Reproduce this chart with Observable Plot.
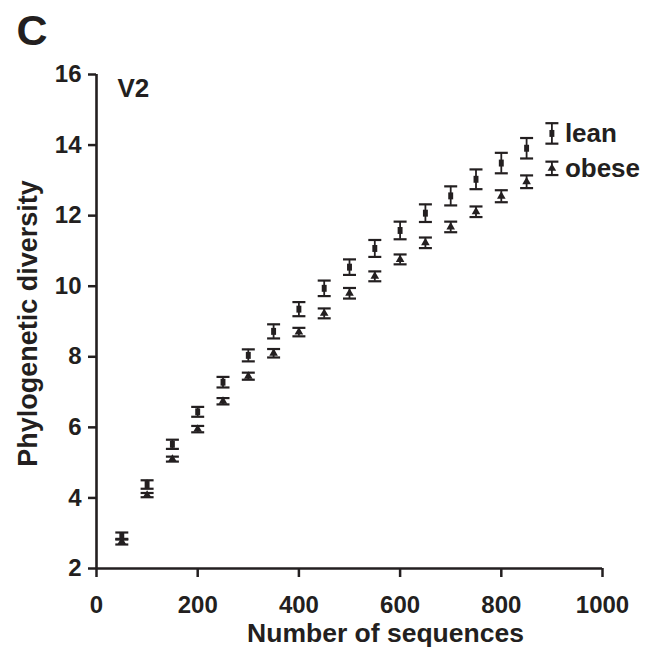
<!DOCTYPE html>
<html>
<head>
<meta charset="utf-8">
<script src="https://cdn.jsdelivr.net/npm/d3@7"></script>
<script src="https://cdn.jsdelivr.net/npm/@observablehq/plot@0.6"></script>
<style>
  html, body { margin: 0; padding: 0; background: #fff; }
  #chart svg { display: block; }
</style>
</head>
<body>
<div id="chart"></div>
<script>
// Rarefaction of phylogenetic diversity, V2 region
const sequences = [50, 100, 150, 200, 250, 300, 350, 400, 450, 500, 550, 600, 650, 700, 750, 800, 850, 900];
const leanMean  = [2.92, 4.38, 5.52, 6.44, 7.28, 8.04, 8.72, 9.35, 9.94, 10.54, 11.07, 11.58, 12.07, 12.56, 13.03, 13.49, 13.91, 14.33];
const leanErr   = [0.10, 0.12, 0.13, 0.14, 0.15, 0.17, 0.20, 0.20, 0.22, 0.22, 0.24, 0.25, 0.25, 0.27, 0.28, 0.29, 0.29, 0.29];
const obeseMean = [2.76, 4.08, 5.10, 5.95, 6.74, 7.45, 8.10, 8.70, 9.23, 9.80, 10.28, 10.76, 11.23, 11.68, 12.11, 12.55, 12.96, 13.34];
const obeseErr  = [0.08, 0.06, 0.07, 0.09, 0.09, 0.10, 0.12, 0.12, 0.14, 0.15, 0.14, 0.14, 0.15, 0.15, 0.15, 0.17, 0.18, 0.19];
const groups = ["lean", "obese"];
const xTicks = [0, 200, 400, 600, 800, 1000];
const yTicks = [2, 4, 6, 8, 10, 12, 14, 16];

const ink = "#231f20";
const font = "'Liberation Sans', Arial, Helvetica, sans-serif";

const rows = [];
sequences.forEach((n, i) => {
  rows.push({group: groups[0], n, mean: leanMean[i], err: leanErr[i]});
  rows.push({group: groups[1], n, mean: obeseMean[i], err: obeseErr[i]});
});
const leanRows = rows.filter(d => d.group === "lean");
const obeseRows = rows.filter(d => d.group === "obese");
const lastRows = rows.filter(d => d.n === sequences[sequences.length - 1]);

// horizontal whisker cap
const cap = {draw(ctx, size) { const r = Math.sqrt(size / Math.PI); ctx.moveTo(-r, 0); ctx.lineTo(r, 0); }};
// small upright rectangle marker
const bar = {draw(ctx, size) { const r = Math.sqrt(size / Math.PI); ctx.rect(-r * 0.85, -r * 1.2, r * 1.7, r * 2.4); }};

const chart = Plot.plot({
  width: 648,
  height: 652,
  marginLeft: 96,
  marginRight: 46,
  marginTop: 74,
  marginBottom: 84,
  style: {fontFamily: font, fontWeight: "bold", color: ink, background: "#fff", overflow: "visible"},
  x: {domain: [0, 1000]},
  y: {domain: [2, 16]},
  marks: [
    Plot.axisX({ticks: xTicks, tickFormat: d => String(d), tickSize: 9, tickPadding: 18, strokeWidth: 2.5, fontSize: 24, fontWeight: "bold", label: null}),
    Plot.axisY({ticks: yTicks, tickFormat: d => String(d), tickSize: 8, tickPadding: 7, strokeWidth: 2.5, fontSize: 24, fontWeight: "bold", label: null}),
    Plot.ruleX([0], {y1: 2, y2: 16, stroke: ink, strokeWidth: 2.6}),
    Plot.ruleY([2], {x1: 0, x2: 1000, stroke: ink, strokeWidth: 2.6}),
    // error bars
    Plot.ruleX(rows, {x: "n", y1: d => d.mean - d.err, y2: d => d.mean + d.err, stroke: ink, strokeWidth: 1.8}),
    Plot.dot(rows, {x: "n", y: d => d.mean + d.err, symbol: cap, r: 6.5, stroke: ink, strokeWidth: 2.2}),
    Plot.dot(rows, {x: "n", y: d => d.mean - d.err, symbol: cap, r: 6.5, stroke: ink, strokeWidth: 2.2}),
    // means
    Plot.dot(leanRows, {x: "n", y: "mean", symbol: bar, r: 2.9, fill: ink, stroke: null}),
    Plot.dot(obeseRows, {x: "n", y: "mean", symbol: "triangle", r: 3.2, fill: ink, stroke: null}),
    // series labels at the last point
    Plot.text(lastRows, {x: "n", y: "mean", text: "group", dx: 13, textAnchor: "start", lineAnchor: "middle", fontSize: 26, fontWeight: "bold", fill: ink}),
    // titles
    Plot.text(["Number of sequences"], {frameAnchor: "bottom", dx: 36, dy: 65, textAnchor: "middle", lineAnchor: "middle", fontSize: 26.5, fontWeight: "bold", fill: ink}),
    Plot.text(["Phylogenetic diversity"], {frameAnchor: "left", dx: -68, dy: 2, rotate: -90, textAnchor: "middle", lineAnchor: "middle", fontSize: 27, fontWeight: "bold", fill: ink}),
    Plot.text(["V2"], {frameAnchor: "top-left", dx: 21, dy: 14, textAnchor: "start", lineAnchor: "middle", fontSize: 26, fontWeight: "bold", fill: ink}),
    Plot.text(["C"], {frameAnchor: "top-left", dx: -80, dy: -43, textAnchor: "start", lineAnchor: "middle", fontSize: 43, fontWeight: "bold", fill: ink})
  ]
});

document.getElementById("chart").appendChild(chart);
</script>
</body>
</html>
